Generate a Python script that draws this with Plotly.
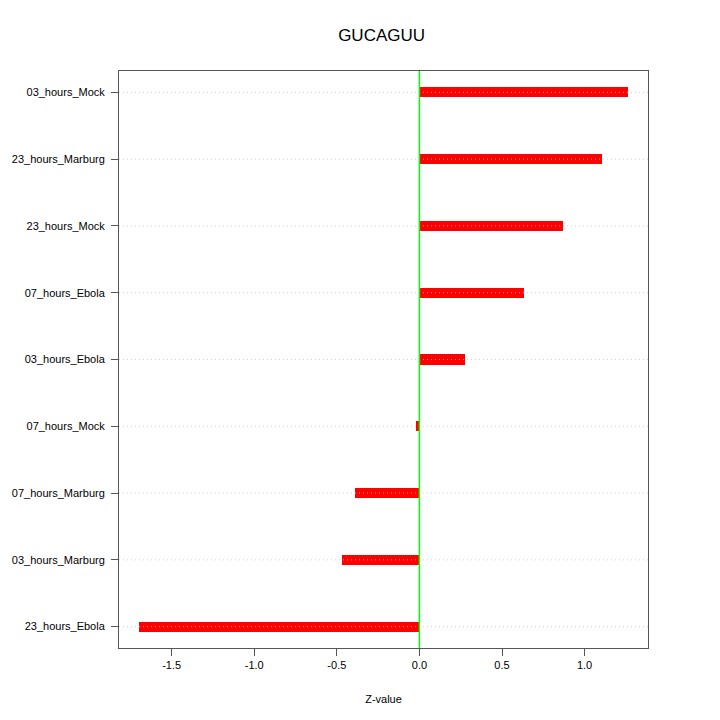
import plotly.graph_objects as go

categories = ["23_hours_Ebola", "03_hours_Marburg", "07_hours_Marburg", "07_hours_Mock",
              "03_hours_Ebola", "07_hours_Ebola", "23_hours_Mock", "23_hours_Marburg", "03_hours_Mock"]
zvalues = [-1.70, -0.47, -0.39, -0.018, 0.277, 0.633, 0.867, 1.108, 1.265]
xticks = [-1.5, -1.0, -0.5, 0.0, 0.5, 1.0]
xticklabels = ["-1.5", "-1.0", "-0.5", "0.0", "0.5", "1.0"]

ypos = list(range(1, len(categories) + 1))

fig = go.Figure()
fig.add_trace(go.Bar(
    x=zvalues, y=ypos, orientation="h", width=0.15,
    marker=dict(color="#ff0000", line=dict(width=0)),
    hoverinfo="skip", showlegend=False,
))
# dotted gridlines drawn over the bars
for yp in ypos:
    fig.add_trace(go.Scatter(
        x=[-1.819, 1.384], y=[yp, yp], mode="lines",
        line=dict(color="rgba(200,200,200,0.85)", width=1, dash="1px,3px"),
        hoverinfo="skip", showlegend=False,
    ))

fig.add_shape(type="line", xref="x", yref="paper", x0=0, x1=0, y0=0, y1=1,
              line=dict(color="#00ff00", width=1.5))

fig.update_layout(
    width=720, height=720,
    paper_bgcolor="white", plot_bgcolor="white",
    margin=dict(l=116, r=72, t=71, b=72),
    font=dict(family="Liberation Sans, Arial, sans-serif", color="black", size=11),
    title=dict(text="GUCAGUU", x=0.53, xanchor="center", y=0.952, yanchor="middle",
               font=dict(size=17, color="black")),
    bargap=0,
)
fig.update_xaxes(
    range=[-1.819, 1.384], tickvals=xticks, ticktext=xticklabels,
    showgrid=False, zeroline=False,
    showline=True, linecolor="#555555", linewidth=1, mirror=True,
    ticks="outside", ticklen=7, tickcolor="#555555",
    title=dict(text="Z-value", font=dict(size=11), standoff=25),
)
fig.update_yaxes(
    range=[0.68, 9.32], tickvals=ypos, ticktext=categories,
    showgrid=False, zeroline=False,
    showline=True, linecolor="#555555", linewidth=1, mirror=True,
    ticks="outside", ticklen=7, tickcolor="#555555", ticklabelstandoff=4,
)

fig.write_html("out.html", config={"displayModeBar": False},
               post_script="document.body.style.margin='0';")
